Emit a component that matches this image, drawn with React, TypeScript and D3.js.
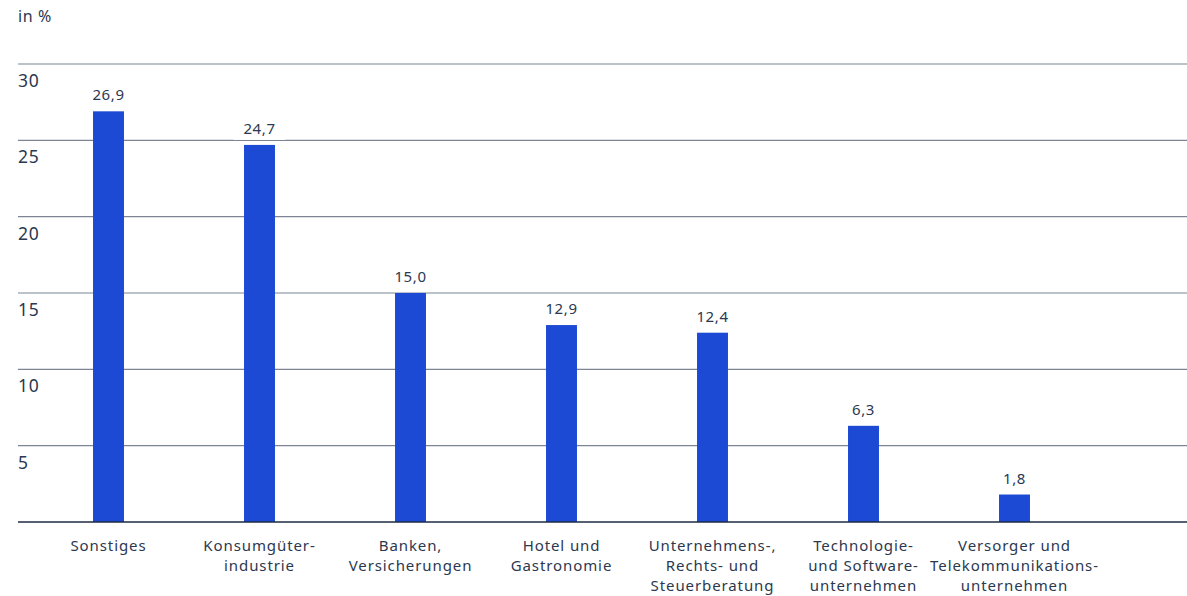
import { useMemo } from 'react';
import * as d3 from 'd3';

const categories = [
  'Sonstiges',
  'Konsumgüterindustrie',
  'Banken, Versicherungen',
  'Hotel und Gastronomie',
  'Unternehmens-, Rechts- und Steuerberatung',
  'Technologie- und Softwareunternehmen',
  'Versorger und Telekommunikationsunternehmen',
];
const categoryLines = [
  ['Sonstiges'],
  ['Konsumgüter-', 'industrie'],
  ['Banken,', 'Versicherungen'],
  ['Hotel und', 'Gastronomie'],
  ['Unternehmens-,', 'Rechts- und', 'Steuerberatung'],
  ['Technologie-', 'und Software-', 'unternehmen'],
  ['Versorger und', 'Telekommunikations-', 'unternehmen'],
];
const values = [26.9, 24.7, 15.0, 12.9, 12.4, 6.3, 1.8];
const yTicks = [5, 10, 15, 20, 25, 30];

const W = 1187;
const H = 596;
const M = { top: 64, left: 18, bottom: 522 };
const FONT = '"Noto Sans", "Open Sans", sans-serif';
const TEXT = '#2b3850';
const BAR = '#1d4ad4';

export default function App() {
  const x = useMemo(() =>
    d3.scaleBand<string>().domain(categories).range([33, 1090])
      .paddingInner(0.795).paddingOuter(0.3975), []);
  const y = useMemo(() =>
    d3.scaleLinear().domain([0, 30]).range([M.bottom, M.top]), []);
  const fmt = (v: number) => v.toFixed(1).replace('.', ',');

  return (
    <svg width={W} height={H} style={{ position: 'absolute', left: 0, top: 0, background: '#fff' }}
      fontFamily={FONT}>
      <text x={M.left} y={22} fontSize={16} letterSpacing={0.6} fill={TEXT}>in %</text>

      {/* grid + tick labels */}
      {yTicks.map(t => (
        <g key={t}>
          <line x1={M.left} x2={W} y1={y(t)} y2={y(t)} stroke="#7b8595" strokeWidth={1.2} />
          <text x={M.left} y={y(t) + 23} fontSize={17.5} letterSpacing={0.8} fill={TEXT}>{t}</text>
        </g>
      ))}

      {/* bars */}
      {categories.map((c, i) => {
        const bx = x(c)!;
        const cx = bx + x.bandwidth() / 2;
        const label = fmt(values[i]);
        const ty = y(values[i]) - 11;
        const tw = label.length * 9;
        return (
          <g key={c}>
            <rect x={bx} y={y(values[i])} width={x.bandwidth()} height={y(0) - y(values[i])} fill={BAR} />
            <rect x={cx - tw / 2 - 8} y={ty - 14} width={tw + 16} height={20} fill="#fff" />
            <text x={cx} y={ty} textAnchor="middle" fontSize={15} letterSpacing={0.6} fill={TEXT}>{label}</text>
            {categoryLines[i].map((ln, j) => (
              <text key={j} x={cx} y={551 + j * 20} textAnchor="middle" fontSize={15}
                letterSpacing={0.9} fill={TEXT}>{ln}</text>
            ))}
          </g>
        );
      })}

      {/* baseline */}
      <line x1={M.left} x2={W} y1={y(0)} y2={y(0)} stroke="#1d2b45" strokeWidth={1.5} />
    </svg>
  );
}
